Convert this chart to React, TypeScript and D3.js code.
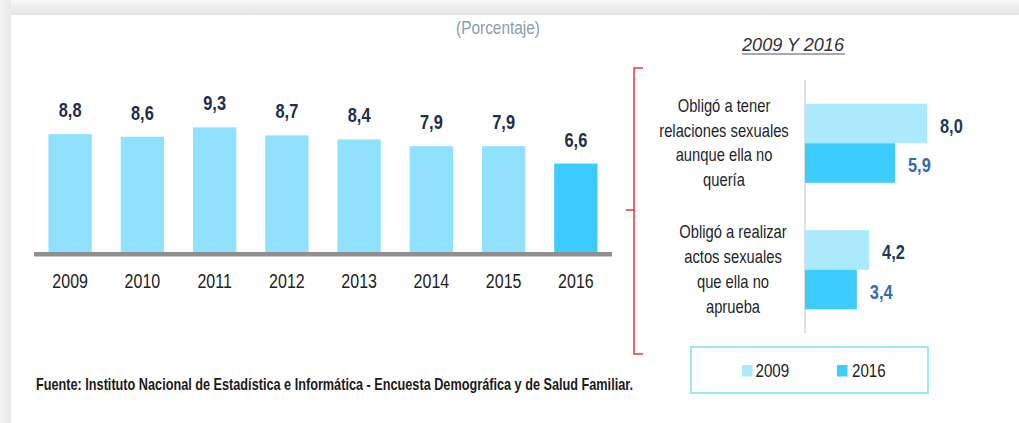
import React from 'react';
import * as d3 from 'd3';

const years = ['2009', '2010', '2011', '2012', '2013', '2014', '2015', '2016'];
const yearValues = [8.8, 8.6, 9.3, 8.7, 8.4, 7.9, 7.9, 6.6];

const acts = ['tener', 'realizar'];
const actLines = [
  ['Obligó a tener', 'relaciones sexuales', 'aunque ella no', 'quería'],
  ['Obligó a realizar', 'actos sexuales', 'que ella no', 'aprueba'],
];
const seriesKeys = ['2009', '2016'];
const values2009 = [8.0, 4.2];
const values2016 = [5.9, 3.4];

const SANS = '"Liberation Sans", Arial, sans-serif';
const fmt = (v: number) => v.toFixed(1).replace('.', ',');

// condensed text: the narrow font is not installed, so squeeze Liberation Sans horizontally
const NText = ({ x, y, children, anchor = 'start', size = 19, weight = 'normal', fill = '#222', baseline }: any) => (
  <text transform={`translate(${x},${y}) scale(0.82,1)`} textAnchor={anchor} fontFamily={SANS}
    fontSize={size} fontWeight={weight} fill={fill} dominantBaseline={baseline}>{children}</text>
);

const App = () => {
  // left chart scales
  const x = d3.scaleBand().domain(years).range([34, 612]).paddingInner(0.4).paddingOuter(0.2);
  const y = d3.scaleLinear().domain([0, 10]).range([252, 118]);

  // right chart scales
  const yCat = d3.scaleBand().domain(acts).range([80, 333]).paddingInner(0.375).paddingOuter(0.1875);
  const ySeries = d3.scaleBand().domain(seriesKeys).range([0, yCat.bandwidth()]);
  const xH = d3.scaleLinear().domain([0, 10]).range([805, 957.5]);
  const seriesVals = [values2009, values2016];
  const seriesFill = ['#abe9fd', '#3dcdfd'];
  const labelFill = ['#22385c', '#2f6db2'];

  return (
    <svg width={1019} height={423} style={{ position: 'absolute', left: 0, top: 0 }}>
      <defs>
        <linearGradient id="topShade" x1="0" y1="0" x2="0" y2="1">
          <stop offset="0" stopColor="#f8f8f8" />
          <stop offset="1" stopColor="#e3e3e3" />
        </linearGradient>
        <linearGradient id="leftShade" x1="0" y1="0" x2="1" y2="0">
          <stop offset="0" stopColor="#f3f3f3" />
          <stop offset="1" stopColor="#e9e9e9" />
        </linearGradient>
      </defs>
      <rect x={0} y={0} width={1019} height={423} fill="#fff" />
      <rect x={0} y={0} width={1019} height={15} fill="url(#topShade)" />
      <rect x={0} y={0} width={11} height={423} fill="url(#leftShade)" />

      <text x={498} y={34} textAnchor="middle" fontFamily={SANS} fontSize={19}
        fill="#8d9ca7" textLength={84} lengthAdjust="spacingAndGlyphs">(Porcentaje)</text>

      {/* left bar chart */}
      <g>
        {years.map((yr, i) => (
          <g key={yr}>
            <rect x={x(yr)} y={y(yearValues[i])} width={x.bandwidth()} height={y(0) - y(yearValues[i])}
              fill={yr === '2016' ? '#3dcbfd' : '#90e1fe'} />
            <NText x={x(yr)! + x.bandwidth() / 2} y={y(yearValues[i]) - 17} anchor="middle"
              weight="bold" size={20} fill="#1f2d4e">{fmt(yearValues[i])}</NText>
            <NText x={x(yr)! + x.bandwidth() / 2} y={288} anchor="middle" size={19.5} fill="#222">{yr}</NText>
          </g>
        ))}
        <rect x={34} y={252} width={578} height={4.5} fill="#8f8f8f" />
      </g>

      <text x={36} y={390} fontFamily={SANS} fontWeight="bold" fontSize={17} fill="#1d1a18"
        textLength={597} lengthAdjust="spacingAndGlyphs">
        Fuente: Instituto Nacional de Estadística e Informática - Encuesta Demográfica y de Salud Familiar.
      </text>

      {/* right panel */}
      <text x={793} y={51} textAnchor="middle" fontFamily={SANS}
        fontStyle="italic" fontSize={19} fill="#333" textLength={102} lengthAdjust="spacingAndGlyphs">2009 Y 2016</text>
      <line x1={742} x2={845} y1={54} y2={54} stroke="#555" strokeWidth={1} />

      <path d="M643,68 H634 V354 H643 M634,210 H626" fill="none" stroke="#e53a40" strokeWidth={1.5} />

      <line x1={805} x2={805} y1={80} y2={333} stroke="#d6d6d6" strokeWidth={1.5} />

      {acts.map((a, ci) => {
        const top = yCat(a)!;
        const center = top + yCat.bandwidth() / 2;
        return (
          <g key={a}>
            {actLines[ci].map((ln, li) => (
              <NText key={li} x={ci === 0 ? 724 : 733} y={center - 37.5 + li * 24.8 + 6} anchor="middle"
                size={18} fill="#231f2a">{ln}</NText>
            ))}
            {seriesKeys.map((s, si) => {
              const v = seriesVals[si][ci];
              const by = top + ySeries(s)!;
              return (
                <g key={s}>
                  <rect x={xH(0)} y={by} width={xH(v) - xH(0)} height={ySeries.bandwidth()} fill={seriesFill[si]} />
                  <NText x={xH(v) + 13} y={by + ySeries.bandwidth() / 2 + 2} baseline="central"
                    weight="bold" size={20} fill={labelFill[si]}>{fmt(v)}</NText>
                </g>
              );
            })}
          </g>
        );
      })}

      {/* legend */}
      <rect x={691} y={347} width={237} height={46} fill="none" stroke="#9fe6fd" strokeWidth={2} />
      {seriesKeys.map((s, si) => (
        <g key={s}>
          <rect x={742 + si * 95} y={365} width={10.5} height={11.5} fill={seriesFill[si]} />
          <NText x={755.5 + si * 96.5} y={377} size={18.5} fill="#222">{s}</NText>
        </g>
      ))}
    </svg>
  );
};

export default App;
